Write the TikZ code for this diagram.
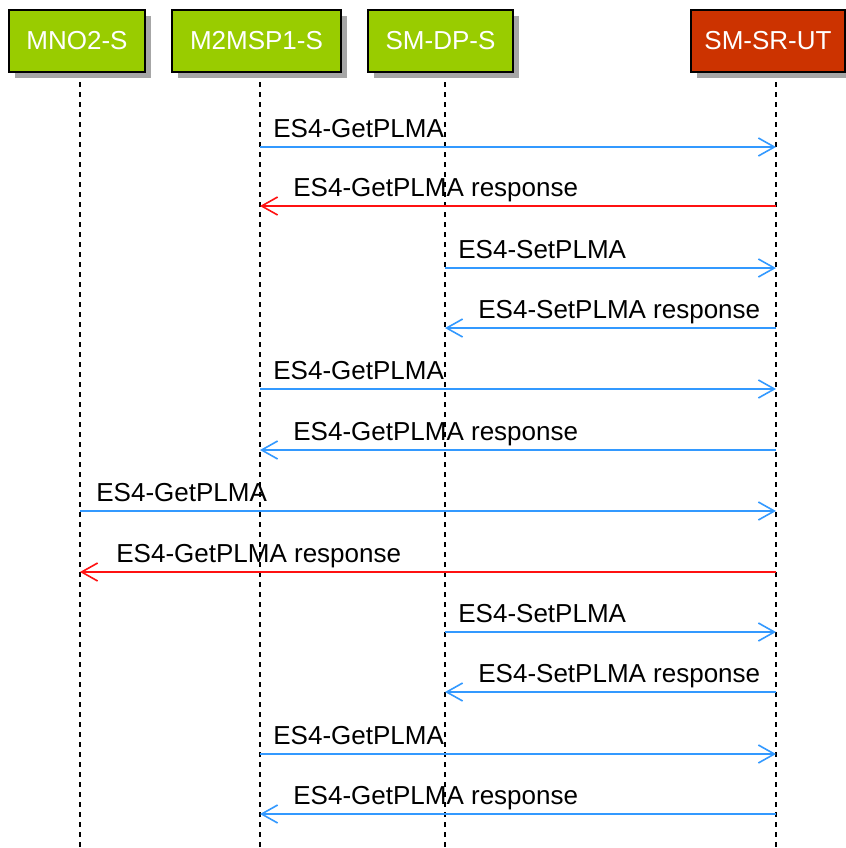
\documentclass[tikz,border=0pt]{standalone}
\usepackage{fontspec}
\setmainfont{Liberation Sans}
\usepackage{tikz}
\usetikzlibrary{arrows.meta,positioning,shadows}
\definecolor{partgreen}{HTML}{99CC00}
\definecolor{partred}{HTML}{CC3300}
\definecolor{msgblue}{HTML}{3399FF}
\definecolor{msgred}{HTML}{FF1111}

\begin{document}
\begin{tikzpicture}[x=0.5pt, y=-0.5pt,
  part/.style={draw=black, line width=1pt, fill=partgreen, text=white, font=\fontsize{13}{15}\selectfont,
    minimum height=31pt, inner sep=0pt,
    drop shadow={shadow xshift=3pt, shadow yshift=-3pt, opacity=0.35, fill=black}},
  life/.style={black, line width=0.7pt, dash pattern=on 2.5pt off 2.5pt},
  arr/.style={-{Straight Barb[length=8pt, width=9pt, line width=0.8pt]}, line width=0.9pt, msgblue},
  rarr/.style={arr, msgred},
  lbl/.style={font=\fontsize{13}{15}\selectfont, anchor=base west, inner sep=0pt}
]
\useasboundingbox (0,0) rectangle (846,848);

% Participants
\node[part, minimum width=68pt] (mno) at (77,41) {MNO2-S};
\node[part, minimum width=84.5pt] (msp) at (256.5,41) {M2MSP1-S};
\node[part, minimum width=72.5pt] (dp) at (440.5,41) {SM-DP-S};
\node[part, minimum width=77pt, fill=partred] (sr) at (768,41) {SM-SR-UT};

% Lifelines
\coordinate (lmno) at (80,82);
\coordinate (lmsp) at (260,82);
\coordinate (ldp) at (445,82);
\coordinate (lsr) at (776,82);
\draw[life] (lmno) -- ++(0,770);
\draw[life] (lmsp) -- ++(0,770);
\draw[life] (ldp) -- ++(0,770);
\draw[life] (lsr) -- ++(0,770);

% Messages
\draw[arr] (lmsp |- 0,147) -- (lsr |- 0,147);
\node[lbl] at (273,137) {ES4-GetPLMA};
\draw[rarr] (lsr |- 0,206) -- (lmsp |- 0,206);
\node[lbl] at (293,196) {ES4-GetPLMA response};

\draw[arr] (ldp |- 0,268) -- (lsr |- 0,268);
\node[lbl] at (458,258) {ES4-SetPLMA};
\draw[arr] (lsr |- 0,328) -- (ldp |- 0,328);
\node[lbl] at (478,318) {ES4-SetPLMA response};

\draw[arr] (lmsp |- 0,389) -- (lsr |- 0,389);
\node[lbl] at (273,379) {ES4-GetPLMA};
\draw[arr] (lsr |- 0,450) -- (lmsp |- 0,450);
\node[lbl] at (293,440) {ES4-GetPLMA response};

\draw[arr] (lmno |- 0,511) -- (lsr |- 0,511);
\node[lbl] at (96,501) {ES4-GetPLMA};
\draw[rarr] (lsr |- 0,572) -- (lmno |- 0,572);
\node[lbl] at (116,562) {ES4-GetPLMA response};

\draw[arr] (ldp |- 0,632) -- (lsr |- 0,632);
\node[lbl] at (458,622) {ES4-SetPLMA};
\draw[arr] (lsr |- 0,692) -- (ldp |- 0,692);
\node[lbl] at (478,682) {ES4-SetPLMA response};

\draw[arr] (lmsp |- 0,754) -- (lsr |- 0,754);
\node[lbl] at (273,744) {ES4-GetPLMA};
\draw[arr] (lsr |- 0,814) -- (lmsp |- 0,814);
\node[lbl] at (293,804) {ES4-GetPLMA response};

\end{tikzpicture}
\end{document}
